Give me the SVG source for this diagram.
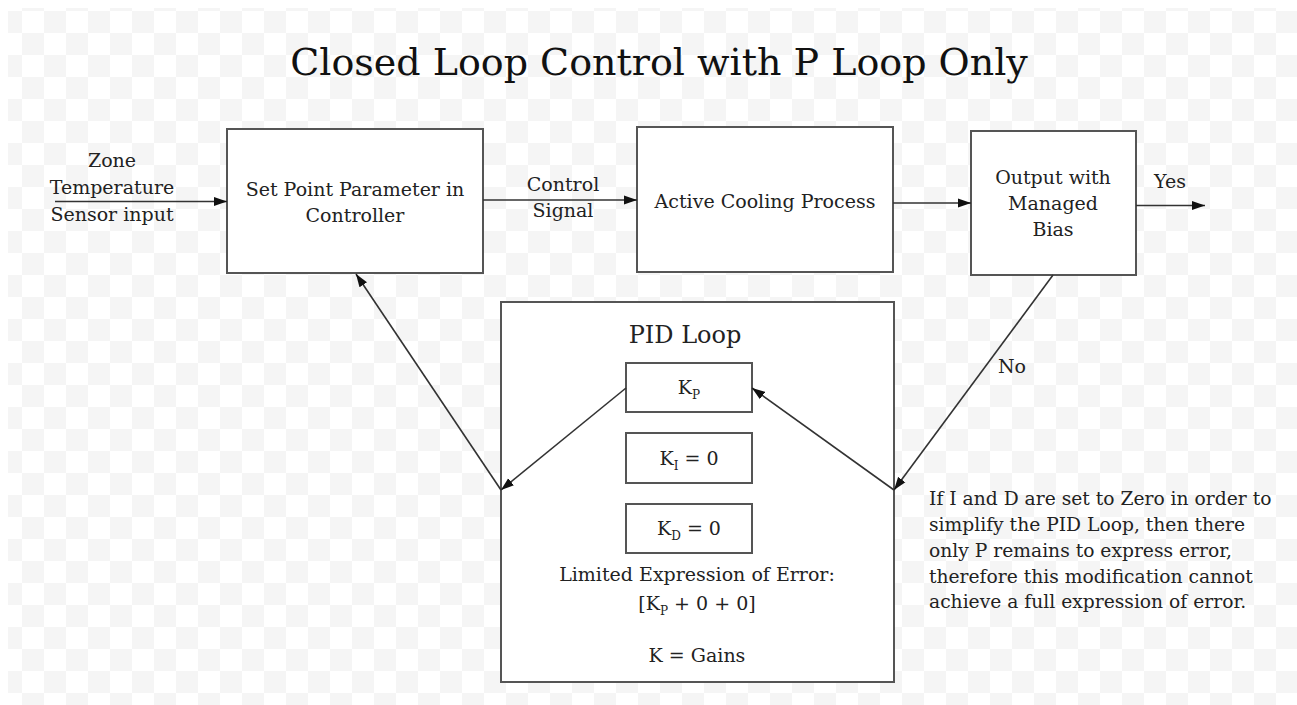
<svg xmlns="http://www.w3.org/2000/svg" width="1297" height="705" viewBox="0 0 1297 705">
<defs>
<pattern id="checker" x="0" y="11" width="44" height="44" patternUnits="userSpaceOnUse">
<rect x="0" y="0" width="22" height="22" fill="#f5f5f5"/>
<rect x="22" y="22" width="22" height="22" fill="#f5f5f5"/>
</pattern>
<marker id="arr" markerUnits="userSpaceOnUse" markerWidth="14" markerHeight="10" refX="13" refY="5" orient="auto">
<path d="M0,0.5 L13,5 L0,9.5 z" fill="#111"/>
</marker>
<style>
.box{fill:#fff;stroke:#555;stroke-width:2}
.t{font-family:"DejaVu Serif","Liberation Serif",serif;font-size:19px;fill:#222;text-anchor:middle}
.tl{font-family:"DejaVu Serif","Liberation Serif",serif;font-size:18.7px;fill:#222}
.c{fill:none;stroke:#333;stroke-width:1.6;marker-end:url(#arr)}
.sub{font-size:12px}
</style>
</defs>
<rect x="0" y="0" width="1297" height="705" fill="#fff"/>
<rect x="8" y="8" width="1289" height="697" fill="url(#checker)"/>
<text x="659" y="75" style="font-family:'DejaVu Serif','Liberation Serif',serif;font-size:38px;fill:#111;text-anchor:middle">Closed Loop Control with P Loop Only</text>
<g id="input-label">
<text class="t" x="112" y="167">Zone</text>
<text class="t" x="112" y="194">Temperature</text>
<text class="t" x="112" y="221">Sensor input</text>
</g>
<g id="setpoint">
<rect class="box" x="227" y="129" width="256" height="144"/>
<text class="t" x="355" y="196">Set Point Parameter in</text>
<text class="t" x="355" y="222">Controller</text>
</g>
<g id="control-signal-label">
<text class="t" x="563" y="191">Control</text>
<text class="t" x="563" y="217">Signal</text>
</g>
<g id="cooling">
<rect class="box" x="637" y="127" width="256" height="145"/>
<text class="t" x="765" y="208">Active Cooling Process</text>
</g>
<g id="output">
<rect class="box" x="971" y="131" width="165" height="144"/>
<text class="t" x="1053" y="184">Output with</text>
<text class="t" x="1053" y="210">Managed</text>
<text class="t" x="1053" y="236">Bias</text>
</g>
<g id="yes-label"><text class="t" x="1170" y="188">Yes</text></g>
<g id="no-label"><text class="t" x="1012" y="373">No</text></g>
<g id="pid">
<rect class="box" x="501" y="302" width="393" height="380"/>
<text class="t" x="685" y="343" style="font-size:24px">PID Loop</text>
</g>
<g id="kp">
<rect class="box" x="626" y="363" width="126" height="49"/>
<text class="t" x="689" y="394">K<tspan class="sub" dy="5">P</tspan></text>
</g>
<g id="ki">
<rect class="box" x="626" y="433" width="126" height="50"/>
<text class="t" x="689" y="465">K<tspan class="sub" dy="5">I</tspan><tspan dy="-5"> = 0</tspan></text>
</g>
<g id="kd">
<rect class="box" x="626" y="504" width="126" height="49"/>
<text class="t" x="689" y="535">K<tspan class="sub" dy="5">D</tspan><tspan dy="-5"> = 0</tspan></text>
</g>
<g id="pid-text">
<text class="t" x="697" y="581">Limited Expression of Error:</text>
<text class="t" x="697" y="610">[K<tspan class="sub" dy="5">P</tspan><tspan dy="-5"> + 0 + 0]</tspan></text>
<text class="t" x="697" y="662">K = Gains</text>
</g>
<g id="note">
<text class="tl" x="929" y="505">If I and D are set to Zero in order to</text>
<text class="tl" x="929" y="531">simplify the PID Loop, then there</text>
<text class="tl" x="929" y="557">only P remains to express error,</text>
<text class="tl" x="929" y="583">therefore this modification cannot</text>
<text class="tl" x="929" y="608">achieve a full expression of error.</text>
</g>
<g id="connectors">
<path class="c" d="M55,201.5 L227,201.5"/>
<path class="c" d="M483,200 L637,200"/>
<path class="c" d="M893,203 L971,203"/>
<path class="c" d="M1136,205.5 L1205,205.5"/>
<path class="c" d="M1053,275 L894,490"/>
<path class="c" d="M894,490 L752,388"/>
<path class="c" d="M626,388 L501,490"/>
<path class="c" d="M501,490 L356,274"/>
</g>
</svg>
